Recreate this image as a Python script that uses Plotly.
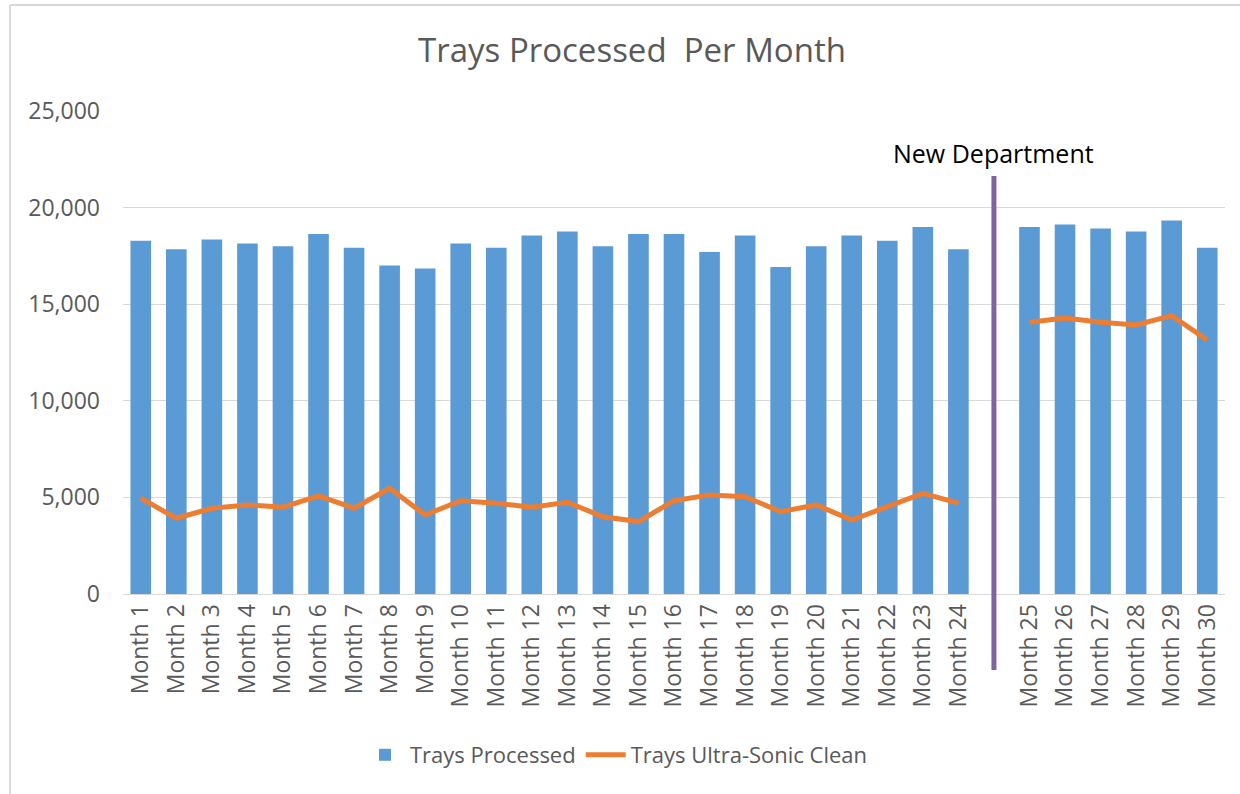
import plotly.graph_objects as go

months = [f"Month {i}" for i in range(1, 25)] + [" "] + [f"Month {i}" for i in range(25, 31)]
trays_processed = [18280, 17850, 18350, 18140, 18000, 18630, 17920, 17000, 16850,
                   18140, 17920, 18560, 18760, 18000, 18630, 18630, 17700, 18560,
                   16920, 18000, 18560, 18280, 18990, 17850,
                   None,
                   18990, 19130, 18920, 18760, 19330, 17920]
trays_ultrasonic = [4960, 3920, 4440, 4610, 4490, 5080, 4440, 5470, 4090,
                    4830, 4700, 4490, 4750, 4000, 3750, 4830, 5130, 5040,
                    4260, 4610, 3830, 4520, 5210, 4700,
                    None,
                    14070, 14280, 14070, 13930, 14410, 13150]
y_ticks = [0, 5000, 10000, 15000, 20000, 25000]
divider_label = "New Department"
divider_category = " "

W, H = 1240, 794
L, R, T, B = 123, 15, 111, 200
pw, ph = W - L - R, H - T - B


def px_x(x):
    return (x - L) / pw


def px_y(y):
    return (H - B - y) / ph


font_family = "'Open Sans', Lato, sans-serif"

fig = go.Figure()
fig.add_trace(go.Bar(
    x=months, y=trays_processed, name="Trays Processed",
    marker=dict(color="#5B9BD5", line=dict(width=0)),
))
fig.add_trace(go.Scatter(
    x=months, y=trays_ultrasonic, name="Trays Ultra-Sonic Clean",
    mode="lines", line=dict(color="#ED7D31", width=5), connectgaps=False,
))

idx = months.index(divider_category)
div_x = (idx + 0.5) / len(months)
fig.add_shape(type="line", xref="paper", yref="paper",
              x0=div_x, x1=div_x, y0=px_y(670), y1=px_y(176),
              line=dict(color="#8064A2", width=5))
fig.add_annotation(text=divider_label, xref="paper", yref="paper",
                   x=div_x, y=px_y(153), showarrow=False,
                   font=dict(family=font_family, size=25, color="#000000"),
                   xanchor="center", yanchor="middle")

# outer chart border
fig.add_shape(type="line", xref="paper", yref="paper",
              x0=px_x(10), x1=px_x(10), y0=px_y(800), y1=px_y(5),
              line=dict(color="#D9D9D9", width=2))
fig.add_shape(type="line", xref="paper", yref="paper",
              x0=px_x(10), x1=px_x(1245), y0=px_y(5), y1=px_y(5),
              line=dict(color="#D9D9D9", width=2))

fig.update_layout(
    width=W, height=H,
    margin=dict(l=L, r=R, t=T, b=B),
    paper_bgcolor="white", plot_bgcolor="white",
    title=dict(text="Trays Processed  Per Month", x=632 / W, xanchor="center",
               y=1 - 50 / H, yanchor="middle",
               font=dict(family=font_family, size=33, color="#595959")),
    bargap=0.42,
    showlegend=True,
    legend=dict(orientation="h", x=px_x(360), xanchor="left", y=px_y(755), yanchor="middle",
                font=dict(family=font_family, size=22, color="#595959"),
                itemwidth=40, tracegroupgap=0),
    xaxis=dict(type="category", categoryorder="array", categoryarray=months,
               tickangle=-90, tickfont=dict(family=font_family, size=23, color="#595959"),
               showgrid=False, showline=True, linecolor="#D9D9D9", linewidth=1,
               ticks="", ticklen=0),
    yaxis=dict(range=[0, 25000], tickvals=y_ticks, tickformat=",",
               tickfont=dict(family=font_family, size=23, color="#595959"),
               showgrid=True, gridcolor="#D9D9D9", gridwidth=1,
               zeroline=True, zerolinecolor="#D9D9D9", zerolinewidth=1,
               showline=False, ticks="", ticklabelstandoff=22),
)

fig.write_html("out.html", config={"displayModeBar": False})

with open("out.html", "r", encoding="utf-8") as f:
    html = f.read()
html = html.replace("<body>", '<body style="margin:0;padding:0;">', 1)
with open("out.html", "w", encoding="utf-8") as f:
    f.write(html)
